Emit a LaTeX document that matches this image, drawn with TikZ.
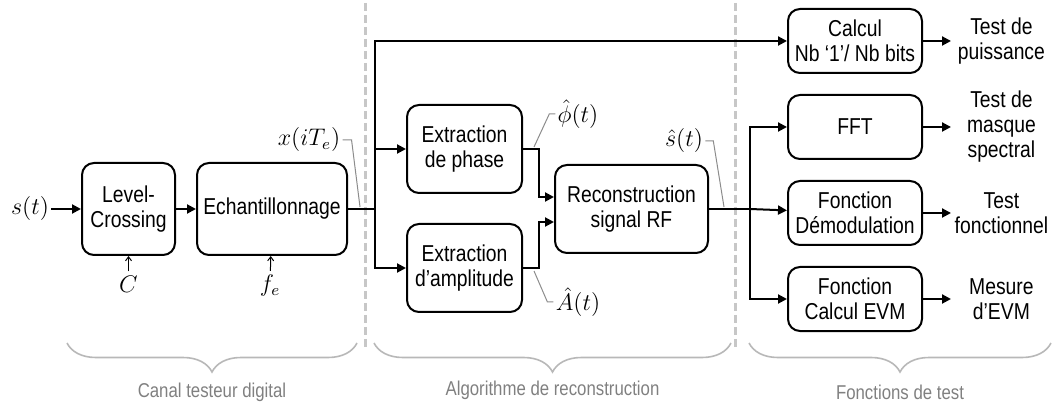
\documentclass[tikz,border=0pt]{standalone}
\usepackage[no-math]{fontspec}
\setmainfont{Liberation Sans}[FakeStretch=0.84]
\usetikzlibrary{arrows.meta, positioning, decorations.pathreplacing}

\begin{document}
\begin{tikzpicture}[
  x=0.5pt, y=-0.5pt,
  node distance=10pt,
  box/.style={rectangle, rounded corners=6pt, draw, line width=1pt, align=center, inner sep=1pt, font=\fontsize{11.5}{12.5}\selectfont},
  fnbox/.style={box, minimum width=67pt, minimum height=32pt},
  outtxt/.style={align=center, inner sep=0pt, minimum width=50pt, font=\fontsize{11.5}{12.5}\selectfont},
  sig/.style={inner sep=1pt, font=\fontsize{12}{14}\selectfont},
  grplabel/.style={text=black!50, font=\fontsize{10}{11}\selectfont},
  arr/.style={-{Triangle[length=4.5pt,width=4.5pt]}, line width=1pt},
  wire/.style={line width=1pt},
  tick/.style={-{Straight Barb[length=2pt,width=3pt]}, line width=0.5pt},
  lead/.style={black!45, line width=0.5pt},
  sep/.style={black!22, line width=1.5pt, dash pattern=on 4pt off 2pt},
  grp/.style={black!28, line width=0.8pt, decorate, decoration={brace, mirror, amplitude=14.5pt}},
]
\useasboundingbox (0,0) rectangle (1053,405);

% separateurs
\draw[sep] (365,3) -- (365,350);
\draw[sep] (735,3) -- (735,350);

% canal testeur
\node[sig] (sin) at (30,209) {$s(t)$};
\node[box, minimum width=46.5pt, minimum height=46pt] (lc) at (128.5,209) {Level-\\Crossing};
\node[box, minimum width=75pt, minimum height=46pt, right=10pt of lc] (ech) {Echantillonnage};
\node[sig] (cin) at (128.5,284) {$C$};
\node[sig] (fe) at (270,286) {$f_e$};
\node[sig] (xi) at (309,140) {$x(iT_e)$};

% reconstruction
\node[box, minimum width=57.5pt, minimum height=44pt] (phase) at (464.5,149) {Extraction\\de phase};
\node[box, minimum width=57.5pt, minimum height=44pt, below=14.5pt of phase] (ampl) {Extraction\\d’amplitude};
\node[box, minimum width=76.5pt, minimum height=44pt] (rec) at (631.5,209) {Reconstruction\\signal RF};
\node[sig] (phi) at (578,114) {$\hat{\phi}(t)$};
\node[sig] (amp) at (578,302) {$\hat{A}(t)$};
\node[sig] (shat) at (684,141) {$\hat{s}(t)$};

% fonctions de test
\node[fnbox] (calc) at (855,41) {Calcul\\Nb ‘1’/ Nb bits};
\node[fnbox, below=of calc]  (fft)   {FFT};
\node[fnbox, below=of fft]   (demod) {Fonction\\Démodulation};
\node[fnbox, below=of demod] (evm)   {Fonction\\Calcul EVM};
\node[outtxt, right=14pt of calc]  (tp) {Test de\\puissance};
\node[outtxt, right=14pt of fft]   (tm) {Test de\\masque\\spectral};
\node[outtxt, right=14pt of demod] (tf) {Test\\fonctionnel};
\node[outtxt, right=14pt of evm]   (me) {Mesure\\d’EVM};

\coordinate (br1) at (375,209);
\coordinate (br2) at (750,209);
\coordinate (xtap) at (360,207);
\coordinate (phtap) at (534,147);
\coordinate (amtap) at (534,271);
\coordinate (stap) at (724,207);

\draw[arr] (sin) -- (lc);
\draw[arr] (lc) -- (ech);
\draw[tick, shorten <=1pt] (cin) -- (lc);
\draw[tick, shorten <=1pt] (fe) -- (ech);
\draw[wire] (ech) -- (br1);
\draw[arr] (br1) |- (calc);
\draw[arr] (br1) |- (phase);
\draw[arr] (br1) |- (ampl);
\draw[arr] (phase.east) -- ++(16,0) |- ([yshift=6pt]rec.west);
\draw[arr] (ampl.east) -- ++(16,0) |- ([yshift=-6.5pt]rec.west);
\draw[wire] (rec) -- (br2);
\draw[arr] (br2) |- (fft);
\draw[arr] (br2) -- (demod);
\draw[arr] (br2) |- (evm);

\draw[arr] (calc) -- (tp);
\draw[arr] (fft) -- (tm);
\draw[arr] (demod) -- (tf);
\draw[arr] (evm) -- (me);

% reperes
\draw[lead] (xi.east) -- ++(9,0) -- (xtap);
\draw[lead] (phi.west) -- ++(-6,0) -- (phtap);
\draw[lead] (amp.west) -- ++(-6,0) -- (amtap);
\draw[lead] (shat.east) -- ++(8,0) -- (stap);

% accolades
\draw[grp] (67,343) -- (357,343) node[grplabel, midway, yshift=-24.5pt] (g1) {Canal testeur digital};
\draw[grp] (374,343) -- (731,343) node[grplabel, midway, yshift=-23.5pt] (g2) {Algorithme de reconstruction};
\draw[grp] (749,343) -- (1051,343) node[grplabel, midway, yshift=-24.5pt] (g3) {Fonctions de test};
\end{tikzpicture}
\end{document}
